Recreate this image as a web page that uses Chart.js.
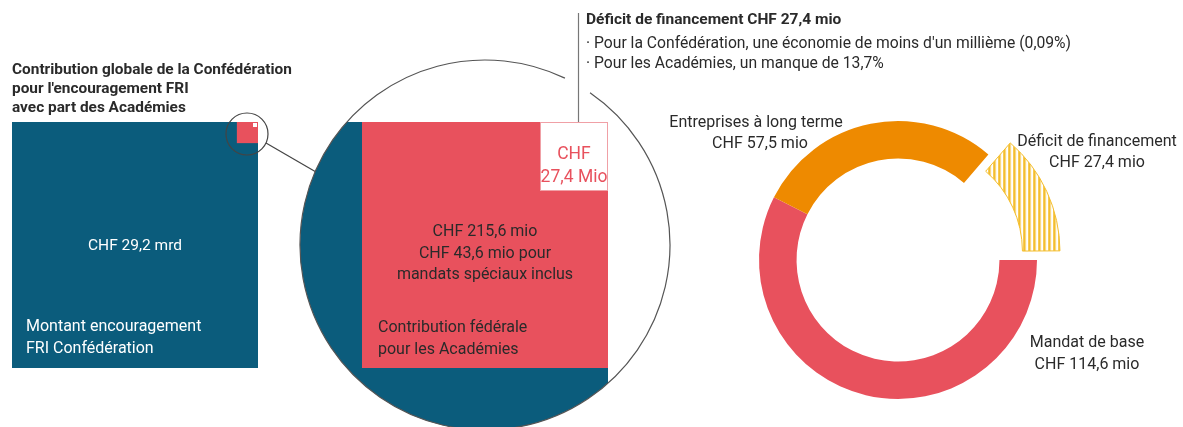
<!DOCTYPE html>
<html>
<head>
<meta charset="utf-8">
<script src="https://cdn.jsdelivr.net/npm/chart.js@4"></script>
<style>
  html, body { margin: 0; padding: 0; background: #fff; }
  #wrap { width: 1183px; height: 427px; position: relative; }
</style>
</head>
<body>
<div id="wrap"><canvas id="academiesChart"></canvas></div>
<script>
// Finanzierung der Akademien (Werte in Mio CHF)
const segmentLabels = ['Mandat de base', 'Entreprises à long terme', 'Déficit de financement'];
const segmentValues = [114.6, 57.5, 27.4];
const segmentTexts = ['CHF 114,6 mio', 'CHF 57,5 mio', 'CHF 27,4 mio'];
const totalFRI = 29200;          // Montant encouragement FRI Confédération
const academiesTotal = 215.6;    // Contribution fédérale pour les Académies
const specialMandates = 43.6;
const fundingGap = 27.4;

const TEAL = '#0b5c7c';
const RED = '#e8515d';
const ORANGE = '#ee8a00';
const YELLOW = '#f4be2e';
const DARK = '#2a2a2a';
const FONT = 'Roboto, "Open Sans", sans-serif';

// Schraffur fuer das Defizit
function stripes() {
  const c = document.createElement('canvas');
  c.width = 5; c.height = 5;
  const g = c.getContext('2d');
  g.fillStyle = '#fff';
  g.fillRect(0, 0, 5, 5);
  g.fillStyle = YELLOW;
  g.fillRect(0, 0, 2.5, 5);
  return g.createPattern(c, 'repeat');
}

function text(ctx, str, x, y, opts) {
  ctx.font = (opts.bold ? 'bold ' : '') + opts.size + 'px ' + FONT;
  ctx.fillStyle = opts.color || DARK;
  ctx.textAlign = opts.align || 'left';
  ctx.textBaseline = 'middle';
  ctx.fillText(str, x, y);
}

const infographic = {
  id: 'infographic',
  beforeDatasetsDraw(chart) {
    const ctx = chart.ctx;
    ctx.save();

    // linkes Quadrat: Flaeche proportional zum Betrag
    const sq = { x: 12, y: 122, s: 246 };
    const pinkS = sq.s * Math.sqrt(academiesTotal / totalFRI);
    ctx.fillStyle = TEAL;
    ctx.fillRect(sq.x, sq.y, sq.s, sq.s);
    ctx.fillStyle = RED;
    ctx.fillRect(sq.x + sq.s - pinkS, sq.y, pinkS, pinkS);
    ctx.fillStyle = '#fff';
    ctx.fillRect(sq.x + sq.s - 5, sq.y + 1, 4, 4);

    // kleine Lupe
    const small = { x: 247, y: 134, r: 21 };
    ctx.strokeStyle = '#444';
    ctx.lineWidth = 1.2;
    ctx.beginPath();
    ctx.arc(small.x, small.y, small.r, 0, Math.PI * 2);
    ctx.stroke();

    // grosse Lupe
    const big = { x: 485, y: 245, r: 185 };
    ctx.beginPath();
    ctx.moveTo(266, 143);
    ctx.lineTo(316, 172);
    ctx.stroke();

    ctx.save();
    ctx.beginPath();
    ctx.arc(big.x, big.y, big.r, 0, Math.PI * 2);
    ctx.clip();
    ctx.fillStyle = TEAL;
    ctx.fillRect(big.x - big.r, 122, 608 - (big.x - big.r), 400);
    ctx.restore();

    ctx.fillStyle = RED;
    ctx.fillRect(362, 122, 246, 246);
    ctx.fillStyle = '#fff';
    ctx.fillRect(540, 122, 68, 69);
    ctx.strokeStyle = '#f0a0a6';
    ctx.lineWidth = 1;
    ctx.strokeRect(540.5, 122.5, 67, 68);

    ctx.strokeStyle = '#555';
    ctx.lineWidth = 1.2;
    ctx.beginPath();
    ctx.arc(big.x, big.y, big.r, -0.967, Math.PI * 2 - 1.124);
    ctx.stroke();

    // Verbindungslinie zur Anmerkung
    ctx.strokeStyle = '#777';
    ctx.beginPath();
    ctx.moveTo(578.5, 13);
    ctx.lineTo(578.5, 122);
    ctx.stroke();

    // Texte links
    text(ctx, 'Contribution globale de la Confédération', 12, 70, { size: 15.4, bold: true });
    text(ctx, "pour l'encouragement FRI", 12, 89, { size: 15.4, bold: true });
    text(ctx, 'avec part des Académies', 12, 108, { size: 15.4, bold: true });
    text(ctx, 'CHF 29,2 mrd', 135, 246, { size: 15.5, color: '#fff', align: 'center' });
    text(ctx, 'Montant encouragement', 26, 327, { size: 16, color: '#fff' });
    text(ctx, 'FRI Confédération', 26, 349, { size: 16, color: '#fff' });

    text(ctx, 'CHF ' + academiesTotal.toFixed(1).replace('.', ',') + ' mio', 485, 232, { size: 16, align: 'center' });
    text(ctx, 'CHF ' + specialMandates.toFixed(1).replace('.', ',') + ' mio pour', 485, 254, { size: 16, align: 'center' });
    text(ctx, 'mandats spéciaux inclus', 485, 275, { size: 16, align: 'center' });
    text(ctx, 'Contribution fédérale', 378, 328, { size: 16 });
    text(ctx, 'pour les Académies', 378, 350, { size: 16 });
    text(ctx, 'CHF', 574, 155, { size: 17.5, color: RED, align: 'center' });
    text(ctx, fundingGap.toFixed(1).replace('.', ',') + ' Mio', 574, 178, { size: 17.5, color: RED, align: 'center' });

    text(ctx, 'Déficit de financement CHF 27,4 mio', 586, 20, { size: 15.5, bold: true });
    text(ctx, "· Pour la Confédération, une économie de moins d'un millième (0,09%)", 586, 44, { size: 15.7 });
    text(ctx, '· Pour les Académies, un manque de 13,7%', 586, 64, { size: 15.7 });

    // Beschriftung Donut
    text(ctx, segmentLabels[1], 756, 123, { size: 16, align: 'center' });
    text(ctx, segmentTexts[1], 760, 144, { size: 16, align: 'center' });
    text(ctx, segmentLabels[2], 1097, 142, { size: 16, align: 'center' });
    text(ctx, segmentTexts[2], 1097, 163, { size: 16, align: 'center' });
    text(ctx, segmentLabels[0], 1087, 343, { size: 16, align: 'center' });
    text(ctx, segmentTexts[0], 1087, 365, { size: 16, align: 'center' });

    ctx.restore();
  }
};

const ctx = document.getElementById('academiesChart').getContext('2d');
new Chart(ctx, {
  type: 'doughnut',
  data: {
    labels: segmentLabels,
    datasets: [{
      data: segmentValues,
      backgroundColor: [RED, ORANGE, stripes()],
      borderColor: [RED, ORANGE, YELLOW],
      borderWidth: [0, 0, 1],
      offset: [0, 0, 80]
    }]
  },
  options: {
    responsive: true,
    maintainAspectRatio: false,
    animation: false,
    rotation: 90,
    radius: 139,
    cutout: '73%',
    layout: { padding: { left: 758, right: 145, top: 120, bottom: 27 } },
    plugins: {
      legend: { display: false },
      tooltip: { enabled: false }
    }
  },
  plugins: [infographic]
});
</script>
</body>
</html>
